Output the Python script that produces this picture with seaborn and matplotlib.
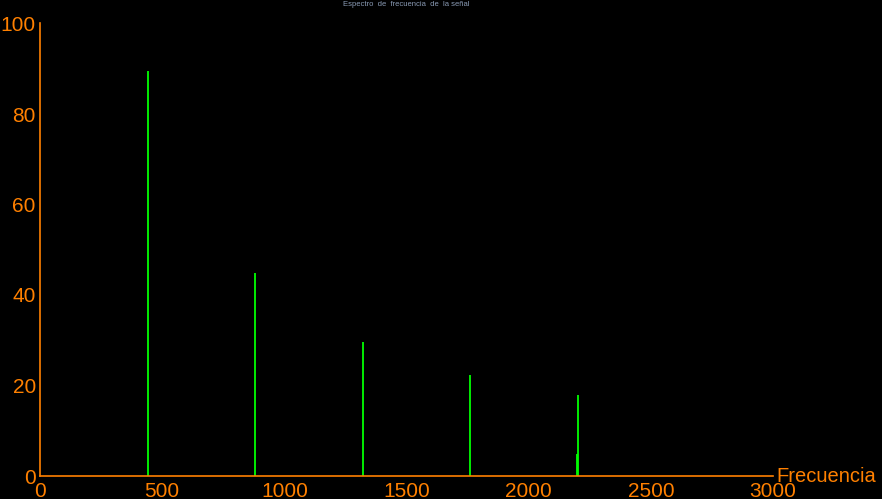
import matplotlib
matplotlib.use('Agg')
import matplotlib.pyplot as plt
import seaborn as sns

# spectrum peaks (Hz, amplitude)
freqs = [440, 880, 1320, 1760, 2200, 2198]
amps = [89.5, 44.8, 29.7, 22.4, 17.8, 4.8]

x_ticks = [0, 500, 1000, 1500, 2000, 2500, 3000]
y_ticks = [0, 20, 40, 60, 80, 100]

sns.set_theme(style='dark', rc={'axes.facecolor': 'black', 'figure.facecolor': 'black'})
plt.rcParams['font.family'] = ['Liberation Sans', 'DejaVu Sans']

orange = '#ff8000'
fig, ax = plt.subplots(figsize=(8.82, 4.99), dpi=100)
fig.subplots_adjust(left=40/882, right=773/882, bottom=23/499, top=1-23.5/499)

ax.vlines(freqs, 0, amps, colors='#00ff00', linewidth=1.3)

ax.set_xlim(0, 3000)
ax.set_ylim(0, 100)
ax.set_xticks(x_ticks)
ax.set_yticks(y_ticks)
ax.set_yticks(range(0, 101, 10), minor=True)
ax.tick_params(axis='both', which='both', direction='in', length=2, width=0.6,
               color='#777777', labelcolor=orange, labelsize=15, pad=3)
ax.tick_params(axis='x', pad=4)
ax.tick_params(axis='both', which='minor', labelleft=False)
ax.spines[['top', 'right']].set_visible(False)
ax.spines[['left', 'bottom']].set_color(orange)
ax.spines[['left', 'bottom']].set_linewidth(1.2)
ax.grid(False)

ax.text(1.005, 0.0, 'Frecuencia', transform=ax.transAxes, ha='left', va='center',
        color=orange, fontsize=14.5)
fig.text(406/882, 1-5/499, 'Espectro  de  frecuencia  de  la señal', ha='center', va='center',
         color='#8a9bb5', fontsize=5.5)

fig.savefig('out.png', dpi=100, facecolor='black')
